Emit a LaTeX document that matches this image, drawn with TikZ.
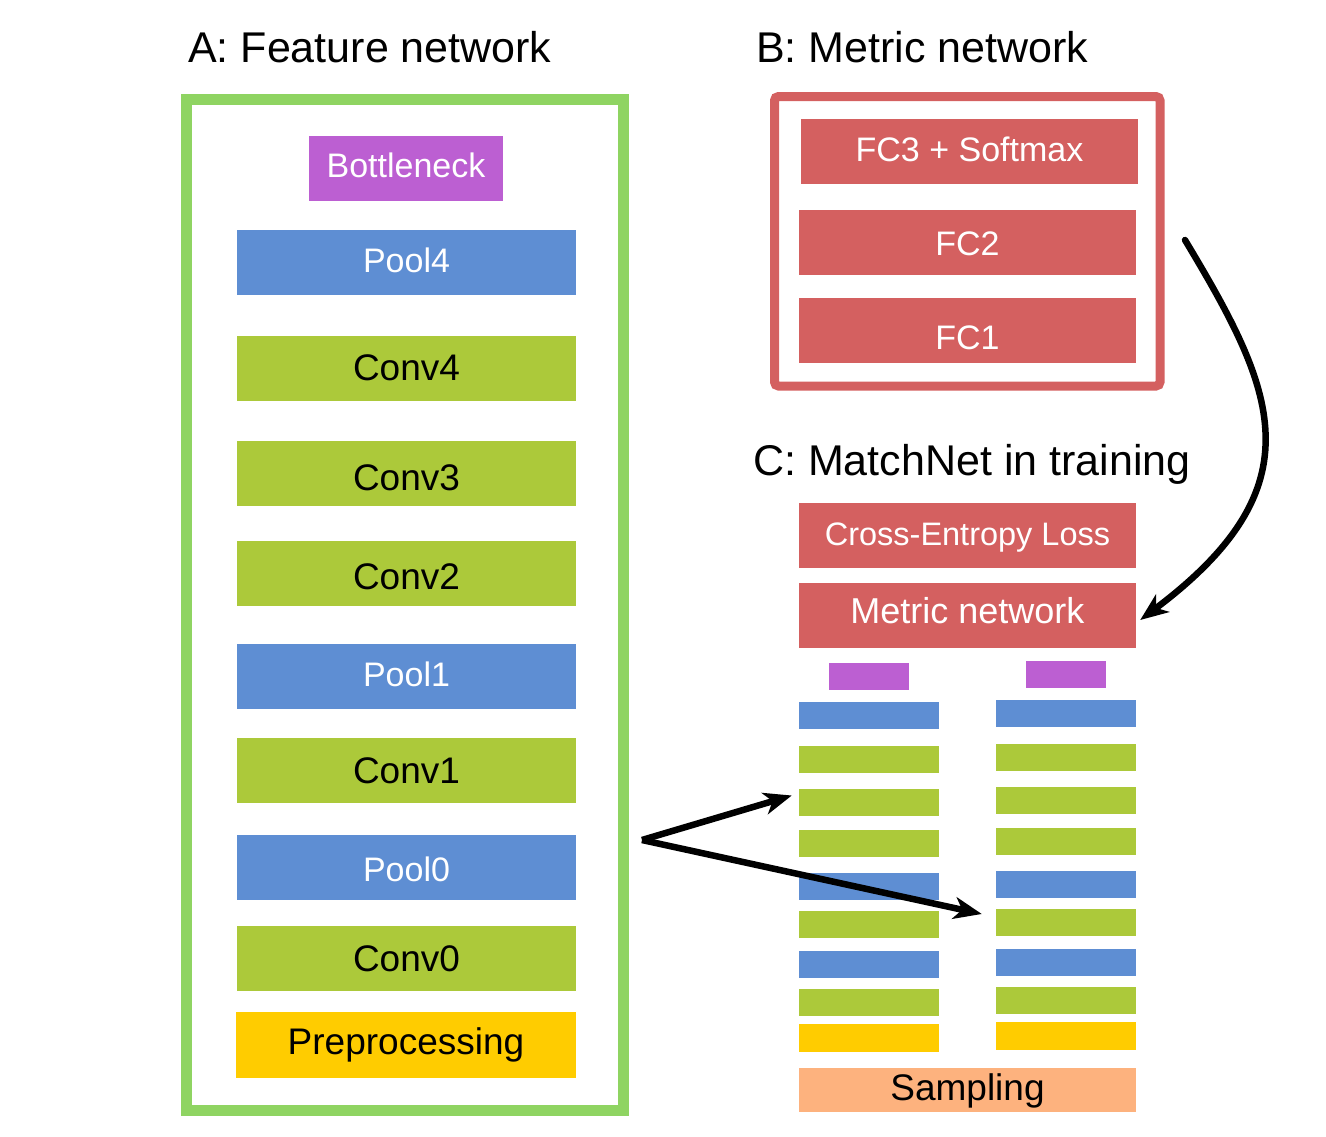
\documentclass[tikz,border=0pt]{standalone}
\usepackage{fontspec}
\setmainfont{Liberation Sans}
\usetikzlibrary{positioning, arrows.meta}

\definecolor{convgreen}{RGB}{172,201,58}
\definecolor{poolblue}{RGB}{94,142,211}
\definecolor{neckpurple}{RGB}{188,95,210}
\definecolor{prepyellow}{RGB}{255,204,0}
\definecolor{fcred}{RGB}{212,96,96}
\definecolor{framegreen}{RGB}{143,212,98}
\definecolor{sampleorange}{RGB}{253,178,126}

\begin{document}
\begin{tikzpicture}[x=1pt, y=-1pt,
      layer_box/.style={rectangle, draw=none, inner sep=0pt, minimum width=339pt, minimum height=65pt,
        text height=26pt, text depth=4pt, font=\fontsize{37}{40}\selectfont},
      conv_box/.style={layer_box, fill=convgreen},
      pool_box/.style={layer_box, fill=poolblue, text=white, text height=24pt, font=\fontsize{34}{40}\selectfont},
      neck_box/.style={pool_box, fill=neckpurple, minimum width=194pt},
      prep_box/.style={layer_box, fill=prepyellow, minimum width=340pt, minimum height=66pt},
      fc_box/.style={pool_box, fill=fcred, minimum width=337pt},
      mini_box/.style={rectangle, draw=none, inner sep=0pt, minimum width=140pt, minimum height=27pt},
      title_text/.style={anchor=base west, inner sep=0pt, font=\fontsize{43}{48}\selectfont},
      edge_path/.style={-{Stealth[length=28pt, width=22pt, inset=8pt]}, line width=6.5pt}
    ]
      \useasboundingbox (0,0) rectangle (1326,1136);

      % titles
      \node[title_text] (title_a) at (188,62) {A: Feature network};
      \node[title_text] (title_b) at (756,62) {B: Metric network};
      \node[title_text] (title_c) at (753,475) {C: MatchNet in training};

      % A: feature network
      \node[draw=framegreen, line width=11pt, inner sep=0pt, minimum width=437pt, minimum height=1011pt] (feature_frame) at (404.5,604.5) {};
      \node[neck_box, text height=22pt] (bottleneck) at (406,168.5) {Bottleneck};
      \node[pool_box] (pool4) at (406.5,262.5) {Pool4};
      \node[conv_box, text height=27pt] (conv4) at (406.5,368.5) {Conv4};
      \node[conv_box, text height=37pt] (conv3) at (406.5,473.5) {Conv3};
      \node[conv_box, text height=35pt] (conv2) at (406.5,573.5) {Conv2};
      \node[pool_box, text height=23pt] (pool1) at (406.5,676.5) {Pool1};
      \node[conv_box, text height=30pt] (conv1) at (406.5,770.5) {Conv1};
      \node[pool_box, text height=32pt] (pool0) at (406.5,867.5) {Pool0};
      \node[conv_box, text height=29pt] (conv0) at (406.5,958.5) {Conv0};
      \node[prep_box, text height=22pt] (prep) at (406,1045) {Preprocessing};

      % B: metric network
      \node[draw=fcred, line width=9pt, rounded corners=4pt, inner sep=0pt, minimum width=385.5pt, minimum height=289.5pt] (metric_frame) at (967.25,241.25) {};
      \node[fc_box] (fc3) at (969.5,151.5) {FC3 + Softmax};
      \node[fc_box, text height=29pt] (fc2) at (967.5,242.5) {FC2};
      \node[fc_box, text height=41pt] (fc1) at (967.5,330.5) {FC1};

      % C: matchnet in training
      \node[fc_box, font=\fontsize{32.5}{38}\selectfont] (ce_loss) at (967.5,535.5) {Cross-Entropy Loss};
      \node[fc_box, font=\fontsize{36}{40}\selectfont, text height=20pt] (metric_net) at (967.5,615.5) {Metric network};

      \node[mini_box, fill=neckpurple, minimum width=80pt] (l0) at (869,676.5) {};
      \node[mini_box, fill=neckpurple, minimum width=80pt] (r0) at (1066,674.5) {};
      \foreach \i/\y/\col in {1/715.5/poolblue, 2/759.5/convgreen, 3/802.5/convgreen, 4/843.5/convgreen,
                              5/886.5/poolblue, 6/924.5/convgreen, 7/964.5/poolblue, 8/1002.5/convgreen} {
        \node[mini_box, fill=\col] (l\i) at (869,\y) {};
        \node[mini_box, fill=\col] (r\i) at (1066,\y-2) {};
      }
      \node[mini_box, fill=prepyellow, minimum height=28pt] (l9) at (869,1038) {};
      \node[mini_box, fill=prepyellow, minimum height=28pt] (r9) at (1066,1036) {};

      \node[layer_box, fill=sampleorange, minimum width=337pt, minimum height=44pt, text height=24pt] (sampling) at (967.5,1090) {Sampling};

      % arrows
      \coordinate (split) at (642,840);
      \coordinate (loop_start) at (1185,240);
      \draw[edge_path] (split) -- ([shift={(-7,-7)}]l3.west);
      \draw[edge_path] (split) -- ([shift={(-14,-8.5)}]r6.west);
      \draw[edge_path, line cap=round] (loop_start) .. controls (1275,390) and (1320,485) .. ([shift={(4,4.5)}]metric_net.east);
    \end{tikzpicture}
\end{document}
